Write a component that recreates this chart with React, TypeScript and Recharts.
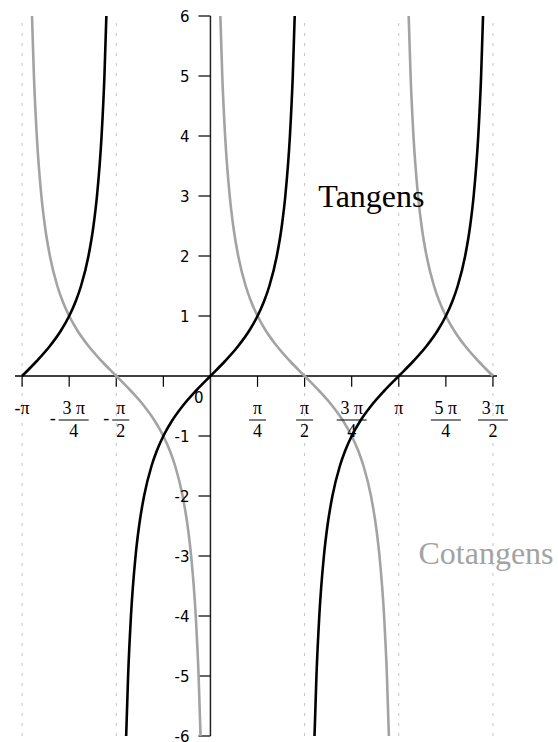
import { LineChart, Line, XAxis, YAxis, ReferenceLine, ReferenceDot } from 'recharts';

const PI = Math.PI;

// sampled branches of tan(x), x in radians
const tanLeftX = [-3.1416, -2.8966, -2.678, -2.4981, -2.3562, -2.2455, -2.1588, -2.0345, -1.9513, -1.8926, -1.8158, -1.7682, -1.736];
const tanLeftY = [0, 0.25, 0.5, 0.75, 1, 1.25, 1.5, 2, 2.5, 3, 4, 5, 6];

const tanMidX = [-1.4056, -1.3734, -1.3258, -1.249, -1.1903, -1.1071, -0.9828, -0.8961, -0.7854, -0.6435, -0.4636, -0.245, 0, 0.245, 0.4636, 0.6435, 0.7854, 0.8961, 0.9828, 1.1071, 1.1903, 1.249, 1.3258, 1.3734, 1.4056];
const tanMidY = [-6, -5, -4, -3, -2.5, -2, -1.5, -1.25, -1, -0.75, -0.5, -0.25, 0, 0.25, 0.5, 0.75, 1, 1.25, 1.5, 2, 2.5, 3, 4, 5, 6];

const tanRightX = [1.736, 1.7682, 1.8158, 1.8926, 1.9513, 2.0345, 2.1588, 2.2455, 2.3562, 2.4981, 2.678, 2.8966, 3.1416, 3.3866, 3.6052, 3.7851, 3.927, 4.0377, 4.1244, 4.2487, 4.3319, 4.3906, 4.4674, 4.515, 4.5472];
const tanRightY = [-6, -5, -4, -3, -2.5, -2, -1.5, -1.25, -1, -0.75, -0.5, -0.25, 0, 0.25, 0.5, 0.75, 1, 1.25, 1.5, 2, 2.5, 3, 4, 5, 6];

// sampled branches of cot(x)
const cotLeftX = [-2.9764, -2.9442, -2.8966, -2.8198, -2.7611, -2.678, -2.5536, -2.4669, -2.3562, -2.2143, -2.0345, -1.8158, -1.5708, -1.3258, -1.1071, -0.9273, -0.7854, -0.6747, -0.588, -0.4636, -0.3805, -0.3218, -0.245, -0.1974, -0.1652];
const cotLeftY = [6, 5, 4, 3, 2.5, 2, 1.5, 1.25, 1, 0.75, 0.5, 0.25, 0, -0.25, -0.5, -0.75, -1, -1.25, -1.5, -2, -2.5, -3, -4, -5, -6];

const cotMidX = [0.1652, 0.1974, 0.245, 0.3218, 0.3805, 0.4636, 0.588, 0.6747, 0.7854, 0.9273, 1.1071, 1.3258, 1.5708, 1.8158, 2.0345, 2.2143, 2.3562, 2.4669, 2.5536, 2.678, 2.7611, 2.8198, 2.8966, 2.9442, 2.9764];
const cotMidY = [6, 5, 4, 3, 2.5, 2, 1.5, 1.25, 1, 0.75, 0.5, 0.25, 0, -0.25, -0.5, -0.75, -1, -1.25, -1.5, -2, -2.5, -3, -4, -5, -6];

const cotRightX = [3.3068, 3.339, 3.3866, 3.4634, 3.5221, 3.6052, 3.7296, 3.8163, 3.927, 4.0689, 4.2487, 4.4674, 4.7124];
const cotRightY = [6, 5, 4, 3, 2.5, 2, 1.5, 1.25, 1, 0.75, 0.5, 0.25, 0];

// axis ticks
const xTickMarks = [-PI, -3 * PI / 4, -PI / 2, -PI / 4, PI / 4, PI / 2, 3 * PI / 4, PI, 5 * PI / 4, 3 * PI / 2];
const xLabelValues = [-PI, -3 * PI / 4, -PI / 2, PI / 4, PI / 2, 3 * PI / 4, PI, 5 * PI / 4, 3 * PI / 2];
const xLabelSigns = ['-', '-', '-', '', '', '', '', '', ''];
const xLabelNums = ['π', '3 π', 'π', 'π', 'π', '3 π', 'π', '5 π', '3 π'];
const xLabelDens = ['', '4', '2', '4', '2', '4', '', '4', '2'];
const yTicks = [-6, -5, -4, -3, -2, -1, 1, 2, 3, 4, 5, 6];
const asymptotes = [-PI, -PI / 2, PI / 2, PI, 3 * PI / 2];

const zip = (xs: number[], ys: number[]) => xs.map((x, i) => ({ x, y: ys[i] }));

const tanBranches = [zip(tanLeftX, tanLeftY), zip(tanMidX, tanMidY), zip(tanRightX, tanRightY)];
const cotBranches = [zip(cotLeftX, cotLeftY), zip(cotMidX, cotMidY), zip(cotRightX, cotRightY)];

const SERIF = '"Liberation Serif", "Times New Roman", serif';
const SANS = '"DejaVu Sans", Verdana, sans-serif';

function xLabelShape(i: number) {
  return (props: any) => {
    const { cx, cy } = props;
    const sign = xLabelSigns[i];
    const num = xLabelNums[i];
    const den = xLabelDens[i];
    const font = { fontFamily: SERIF, fontSize: 18, fill: '#000' };
    if (!den) {
      return (
        <text x={cx} y={cy + 38} textAnchor="middle" {...font}>
          {sign + num}
        </text>
      );
    }
    const barW = num.length > 1 ? 30 : 17;
    const fx = sign ? cx + 4.5 : cx;
    return (
      <g>
        {sign && (
          <text x={fx - barW / 2 - 6} y={cy + 48} textAnchor="middle" {...font}>
            -
          </text>
        )}
        <text x={fx} y={cy + 38} textAnchor="middle" {...font}>{num}</text>
        <line x1={fx - barW / 2} x2={fx + barW / 2} y1={cy + 44} y2={cy + 44} stroke="#000" strokeWidth={1} />
        <text x={fx} y={cy + 61} textAnchor="middle" {...font}>{den}</text>
      </g>
    );
  };
}

function yLabelShape(v: number) {
  return (props: any) => (
    <text x={props.cx - 21} y={props.cy + 6} textAnchor="end" fontFamily={SANS} fontSize={15} fill="#000">
      {v < 0 ? '-' + Math.abs(v) : String(v)}
    </text>
  );
}

const textShape = (label: string, color: string) => (props: any) => (
  <text x={props.cx} y={props.cy} fontFamily={SERIF} fontSize={32} fill={color}>
    {label}
  </text>
);

export default function App() {
  return (
    <div style={{ position: 'absolute', left: 0, top: 0, width: 558, height: 742, background: '#fff' }}>
      <LineChart width={558} height={742} margin={{ top: 16, right: 61, bottom: 6, left: 15 }}>
        <XAxis type="number" dataKey="x" domain={[-3.26, 4.78]} allowDataOverflow hide />
        <YAxis type="number" dataKey="y" domain={[-6, 6]} allowDataOverflow hide />

        {asymptotes.map((a) => (
          <ReferenceLine key={`as-${a}`} x={a} stroke="#c4c4c4" strokeDasharray="3 7" />
        ))}

        {/* axes through the origin */}
        <ReferenceLine y={0} stroke="#000" strokeWidth={1.5} />
        <ReferenceLine x={0} stroke="#222" strokeWidth={1.5} />

        {xTickMarks.map((t) => (
          <ReferenceLine key={`xt-${t}`} segment={[{ x: t, y: 0 }, { x: t, y: -0.18 }]} stroke="#000" strokeWidth={1.2} />
        ))}
        {yTicks.map((v) => (
          <ReferenceLine key={`yt-${v}`} segment={[{ x: -0.2, y: v }, { x: 0, y: v }]} stroke="#000" strokeWidth={1.2} />
        ))}

        {xLabelValues.map((v, i) => (
          <ReferenceDot key={`xl-${i}`} x={v} y={0} r={0} shape={xLabelShape(i)} />
        ))}
        {yTicks.map((v) => (
          <ReferenceDot key={`yl-${v}`} x={0} y={v} r={0} shape={yLabelShape(v)} />
        ))}
        <ReferenceDot
          x={0}
          y={0}
          r={0}
          shape={(p: any) => (
            <text x={p.cx - 7} y={p.cy + 27} textAnchor="end" fontFamily={SANS} fontSize={15} fill="#000">0</text>
          )}
        />

        {cotBranches.map((b, i) => (
          <Line key={`cot-${i}`} data={b} dataKey="y" type="monotone" stroke="#a3a3a3" strokeWidth={2.6} dot={false} activeDot={false} isAnimationActive={false} />
        ))}
        {tanBranches.map((b, i) => (
          <Line key={`tan-${i}`} data={b} dataKey="y" type="monotone" stroke="#000" strokeWidth={2.6} dot={false} activeDot={false} isAnimationActive={false} />
        ))}

        <ReferenceDot x={1.8} y={2.82} r={0} shape={textShape('Tangens', '#000')} />
        <ReferenceDot x={3.47} y={-3.13} r={0} shape={textShape('Cotangens', '#a3a3a3')} />
      </LineChart>
    </div>
  );
}
